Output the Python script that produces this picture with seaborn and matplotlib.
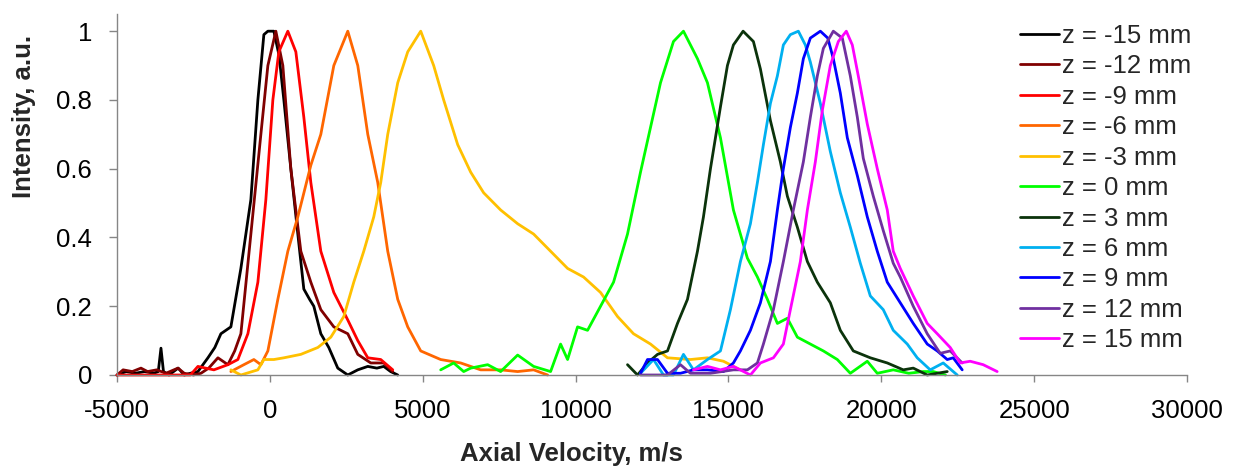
import matplotlib
matplotlib.use("Agg")
import matplotlib.pyplot as plt
import seaborn as sns

# velocity (m/s) and normalised intensity, one pair per z position
vel_m15 = [-5000, -4700, -4400, -4100, -3800, -3650, -3562, -3480, -3300, -3000, -2800, -2600, -2353, -2026,
           -1800, -1601, -1275, -948, -621, -392, -196, -65, 131, 300, 458, 686, 915, 1111, 1300, 1438, 1667,
           1928, 2222, 2549, 2876, 3203, 3500, 3725, 3950, 4183]
int_m15 = [0.0, 0.01, 0.005, 0.01, 0.005, 0.01, 0.078, 0.01, 0.0, 0.02, 0.0, 0.005, 0.01, 0.05,
           0.08, 0.12, 0.14, 0.31, 0.51, 0.80, 0.99, 1.0, 1.0, 0.93, 0.8, 0.6, 0.41, 0.25, 0.22, 0.2, 0.12,
           0.08, 0.02, 0.0, 0.015, 0.025, 0.02, 0.025, 0.01, 0.0]

vel_m12 = [-5000, -4800, -4500, -4216, -4000, -3700, -3400, -3007, -2800, -2500, -2255, -2000, -1699, -1373,
           -1150, -948, -621, -294, -65, 196, 425, 686, 1013, 1340, 1667, 2092, 2549, 2876, 3301, 3725, 4020]
int_m12 = [0.0, 0.015, 0.01, 0.02, 0.01, 0.015, 0.005, 0.02, 0.005, 0.0, 0.005, 0.02, 0.05, 0.03,
           0.07, 0.12, 0.41, 0.70, 0.9, 1.0, 0.9, 0.6, 0.36, 0.27, 0.19, 0.14, 0.12, 0.06, 0.035, 0.035, 0.01]

vel_m9 = [-5000, -4000, -3000, -2600, -2353, -2100, -1830, -1373, -1046, -719, -392, -131, 98, 294, 588,
          850, 1111, 1340, 1667, 2092, 2549, 2876, 3203, 3627, 4020]
int_m9 = [0.0, 0.0, 0.0, 0.0, 0.025, 0.02, 0.015, 0.03, 0.045, 0.12, 0.27, 0.51, 0.8, 0.94, 1.0,
          0.94, 0.75, 0.56, 0.36, 0.24, 0.16, 0.10, 0.05, 0.045, 0.015]

vel_m6 = [-1275, -850, -523, -294, -65, 261, 588, 915, 1340, 1667, 2092, 2549, 2876, 3203, 3529, 3856,
          4183, 4510, 4935, 5588, 6242, 6895, 7549, 8105, 8627, 9085]
int_m6 = [0.01, 0.03, 0.045, 0.03, 0.07, 0.22, 0.36, 0.46, 0.61, 0.70, 0.9, 1.0, 0.9, 0.70, 0.56, 0.36,
          0.22, 0.14, 0.07, 0.045, 0.035, 0.015, 0.015, 0.01, 0.015, 0.0]

vel_m3 = [-1275, -948, -392, -196, 131, 458, 1013, 1569, 1994, 2418, 2745, 3072, 3399, 3627, 3856, 4183,
          4510, 4935, 5359, 5686, 6144, 6569, 6993, 7549, 8105, 8627, 9183, 9739, 10261, 10817, 11373,
          11895, 12451, 13007, 13758, 14314, 14837, 15392]
int_m3 = [0.015, 0.0, 0.015, 0.045, 0.045, 0.05, 0.06, 0.08, 0.11, 0.17, 0.27, 0.36, 0.46, 0.56, 0.70, 0.85,
          0.94, 1.0, 0.9, 0.8, 0.67, 0.59, 0.53, 0.48, 0.44, 0.41, 0.36, 0.31, 0.285, 0.24, 0.17,
          0.12, 0.09, 0.05, 0.045, 0.05, 0.04, 0.015]

vel_0 = [5588, 6013, 6340, 6569, 7124, 7549, 8105, 8627, 9183, 9510, 9739, 10065, 10392, 10817, 11242,
         11699, 12124, 12451, 12778, 13202, 13529, 13987, 14314, 14739, 15163, 15620, 15948, 16275, 16601,
         16928, 17255, 17680, 18105, 18562, 18987, 19542, 19869, 20392, 20900, 21373, 21699, 22100]
int_0 = [0.015, 0.035, 0.01, 0.02, 0.03, 0.01, 0.058, 0.025, 0.01, 0.09, 0.045, 0.14, 0.13, 0.2, 0.27,
         0.41, 0.59, 0.72, 0.85, 0.97, 1.0, 0.92, 0.85, 0.69, 0.48, 0.34, 0.285, 0.22, 0.15,
         0.165, 0.11, 0.09, 0.07, 0.045, 0.005, 0.04, 0.005, 0.015, 0.005, 0.01, 0.01, 0.0]

vel_p3 = [11699, 12026, 12353, 12680, 13007, 13333, 13660, 13987, 14183, 14412, 14739, 14967, 15163, 15480,
          15817, 16046, 16373, 16699, 16928, 17255, 17582, 17908, 18333, 18660, 19085, 19641, 20196, 20719,
          21046, 21503, 22157]
int_p3 = [0.03, 0.0, 0.035, 0.06, 0.07, 0.15, 0.22, 0.36, 0.46, 0.6, 0.78, 0.9, 0.96, 1.0,
          0.97, 0.89, 0.74, 0.62, 0.52, 0.43, 0.33, 0.27, 0.21, 0.13, 0.07, 0.05, 0.035, 0.015,
          0.02, 0.0, 0.01]

vel_p6 = [12124, 12549, 12876, 13202, 13529, 13856, 14314, 14739, 15065, 15392, 15719, 15948, 16144, 16373,
          16601, 16797, 17026, 17288, 17516, 17680, 18007, 18333, 18660, 18987, 19314, 19641, 20065, 20392,
          20850, 21176, 21601, 22026, 22484]
int_p6 = [0.005, 0.045, 0.0, 0.0, 0.06, 0.015, 0.045, 0.07, 0.19, 0.33, 0.44, 0.56, 0.67, 0.79,
          0.87, 0.96, 0.99, 1.0, 0.96, 0.91, 0.79, 0.65, 0.53, 0.43, 0.325, 0.23, 0.19, 0.13,
          0.09, 0.05, 0.015, 0.035, 0.0]

vel_p9 = [12124, 12353, 12680, 13007, 13431, 13856, 14314, 14837, 15163, 15392, 15719, 16046, 16373, 16601,
          16797, 17026, 17255, 17451, 17680, 18007, 18250, 18431, 18660, 18889, 19216, 19542, 19869, 20196,
          20621, 21046, 21503, 21830, 22157, 22353, 22647]
int_p9 = [0.005, 0.045, 0.045, 0.005, 0.005, 0.015, 0.015, 0.01, 0.035, 0.07, 0.13, 0.21, 0.33, 0.48,
          0.6, 0.72, 0.82, 0.92, 0.98, 1.0, 0.98, 0.92, 0.82, 0.69, 0.58, 0.46, 0.36, 0.27,
          0.21, 0.15, 0.09, 0.07, 0.045, 0.05, 0.015]

vel_p12 = [12124, 13007, 13431, 13758, 14412, 15163, 15620, 15948, 16144, 16471, 16797, 17124, 17451, 17680,
           17908, 18105, 18431, 18725, 18987, 19216, 19412, 19739, 20065, 20392, 20621, 21046, 21503, 21928,
           22255, 22647]
int_p12 = [0.0, 0.0, 0.03, 0.005, 0.005, 0.015, 0.015, 0.035, 0.09, 0.19, 0.33, 0.48, 0.62, 0.75,
           0.87, 0.95, 1.0, 0.98, 0.87, 0.75, 0.63, 0.52, 0.42, 0.325, 0.285, 0.2, 0.12, 0.063,
           0.07, 0.035]

vel_p15 = [13856, 14314, 14739, 15163, 15719, 16046, 16471, 16797, 17026, 17353, 17582, 17843, 18072, 18333,
           18595, 18856, 19052, 19248, 19542, 19869, 20196, 20392, 20621, 21046, 21503, 21830, 22255, 22582,
           22908, 23333, 23791]
int_p15 = [0.015, 0.025, 0.015, 0.025, 0.0, 0.035, 0.05, 0.09, 0.19, 0.33, 0.48, 0.62, 0.77, 0.9,
           0.97, 1.0, 0.96, 0.87, 0.73, 0.6, 0.48, 0.36, 0.31, 0.23, 0.15, 0.12, 0.08, 0.035,
           0.04, 0.03, 0.01]

labels = ["z = -15 mm", "z = -12 mm", "z = -9 mm", "z = -6 mm", "z = -3 mm", "z = 0 mm",
          "z = 3 mm", "z = 6 mm", "z = 9 mm", "z = 12 mm", "z = 15 mm"]
colors = ["#000000", "#800000", "#FF0000", "#FF6600", "#FFC000", "#00FF00",
          "#0B330B", "#00B0F0", "#0000FF", "#7030A0", "#FF00FF"]
series = [(vel_m15, int_m15), (vel_m12, int_m12), (vel_m9, int_m9), (vel_m6, int_m6), (vel_m3, int_m3),
          (vel_0, int_0), (vel_p3, int_p3), (vel_p6, int_p6), (vel_p9, int_p9), (vel_p12, int_p12),
          (vel_p15, int_p15)]

x_ticks = list(range(-5000, 30001, 5000))
y_ticks = [0, 0.2, 0.4, 0.6, 0.8, 1.0]
y_tick_labels = ["0", "0.2", "0.4", "0.6", "0.8", "1"]

sns.set_theme(style="white")
plt.rcParams["font.family"] = ["Liberation Sans", "DejaVu Sans"]

fig = plt.figure(figsize=(12.34, 4.70), dpi=100)
ax = fig.add_axes([117 / 1234, 95 / 470, 1070 / 1234, 361 / 470])

for (xv, yv), lab, col in zip(series, labels, colors):
    sns.lineplot(x=xv, y=yv, color=col, linewidth=2.0, label=lab, ax=ax,
                 estimator=None, sort=False, clip_on=False)

ax.set_xlim(-5000, 30000)
ax.set_ylim(0, 1.05)
ax.set_xticks(x_ticks)
ax.set_xticklabels([str(t) for t in x_ticks])
ax.set_yticks(y_ticks)
ax.set_yticklabels(y_tick_labels)

grey = "#868686"
for side in ["top", "right"]:
    ax.spines[side].set_visible(False)
for side in ["left", "bottom"]:
    ax.spines[side].set_color(grey)
    ax.spines[side].set_linewidth(1.0)
ax.tick_params(axis="x", direction="out", length=5, width=1.0, color=grey, pad=12,
               labelsize=18.5, labelcolor="black", bottom=True)
ax.tick_params(axis="y", direction="out", length=6, width=1.0, color=grey, pad=12,
               labelsize=18.5, labelcolor="black", left=True)

ax.set_xlabel("Axial Velocity, m/s", fontsize=18.5, fontweight="bold")
ax.set_ylabel("Intensity, a.u.", fontsize=18.5, fontweight="bold")
ax.xaxis.set_label_coords(0.425, -0.186)
ax.yaxis.set_label_coords(-0.0757, 0.716)

ax.legend(loc="upper left", bbox_to_anchor=(1020 / 1234, 1 - 24 / 470), bbox_transform=fig.transFigure,
          frameon=False, fontsize=18.5, borderpad=0, borderaxespad=0, handlelength=1.5,
          handletextpad=0.15, labelspacing=0.25)

fig.savefig("out.png", dpi=100)
